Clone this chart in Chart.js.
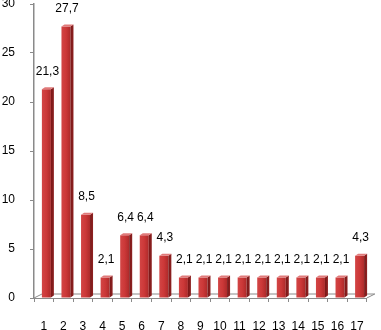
<!DOCTYPE html>
<html>
<head>
<meta charset="utf-8">
<script src="https://cdn.jsdelivr.net/npm/chart.js@4"></script>
<style>
html,body{margin:0;padding:0;background:#fff;}
#wrap{width:381px;height:330px;position:relative;}
</style>
</head>
<body>
<div id="wrap"><canvas id="c" width="381" height="330"></canvas></div>
<script>
const categories = ['1','2','3','4','5','6','7','8','9','10','11','12','13','14','15','16','17'];
const values = [21.3, 27.7, 8.5, 2.1, 6.4, 6.4, 4.3, 2.1, 2.1, 2.1, 2.1, 2.1, 2.1, 2.1, 2.1, 2.1, 4.3];
const yMin = 0, yMax = 30, yStep = 5;

const FONT = "'Liberation Sans', Arial, sans-serif";
const SHIFT = 2.6;      // 3D offset of bars toward the back
const DEPTH_BAR = [3, -2];
const DEPTH_FLOOR = [8, -4];
const AXIS_GRAY = '#8a8a8a';

function fmt(v){ return String(v).replace('.', ','); }

const bar3d = {
  id: 'bar3d',
  beforeDatasetsDraw(chart){
    const {ctx, chartArea: a} = chart;
    const y0 = chart.scales.y.getPixelForValue(0);
    ctx.save();
    ctx.strokeStyle = AXIS_GRAY;
    ctx.lineWidth = 1;
    ctx.beginPath();
    ctx.moveTo(a.left, y0);
    ctx.lineTo(a.left + DEPTH_FLOOR[0], y0 + DEPTH_FLOOR[1]);
    ctx.lineTo(a.right + DEPTH_FLOOR[0], y0 + DEPTH_FLOOR[1]);
    ctx.lineTo(a.right, y0);
    ctx.stroke();
    ctx.restore();
    ctx.save();
    ctx.translate(SHIFT, 0);
  },
  afterDatasetsDraw(chart){
    const {ctx} = chart;
    ctx.restore();
    const meta = chart.getDatasetMeta(0);
    ctx.save();
    meta.data.forEach((el, i) => {
      const p = el.getProps(['x','y','base','width'], true);
      const l = p.x - p.width/2 + SHIFT, r = p.x + p.width/2 + SHIFT;
      const t = p.y, b = p.base;
      const [dx, dy] = DEPTH_BAR;
      const gs = ctx.createLinearGradient(r, 0, r+dx, 0);
      gs.addColorStop(0, '#7a1717');
      gs.addColorStop(1, '#8f2222');
      ctx.fillStyle = gs;
      ctx.beginPath();
      ctx.moveTo(r, t); ctx.lineTo(r+dx, t+dy); ctx.lineTo(r+dx, b+dy); ctx.lineTo(r, b);
      ctx.closePath(); ctx.fill();
      ctx.fillStyle = '#e07a7a';
      ctx.beginPath();
      ctx.moveTo(l, t); ctx.lineTo(l+dx, t+dy); ctx.lineTo(r+dx, t+dy); ctx.lineTo(r, t);
      ctx.closePath(); ctx.fill();
      ctx.fillStyle = '#000';
      ctx.font = '12px ' + FONT;
      ctx.textAlign = 'center';
      ctx.textBaseline = 'middle';
      ctx.fillText(fmt(values[i]), (l + r)/2 + 1, t - 18);
    });
    ctx.restore();
  }
};

const chart = new Chart(document.getElementById('c'), {
  type: 'bar',
  data: {
    labels: categories,
    datasets: [{
      data: values,
      barPercentage: 0.46,
      categoryPercentage: 1,
      borderWidth: 0,
      backgroundColor: (c) => {
        const ch = c.chart;
        if (!ch.chartArea || !ch.scales.x) return '#c83434';
        const cx = ch.scales.x.getPixelForValue(c.dataIndex);
        const half = 4.5;
        const g = ch.ctx.createLinearGradient(cx - half, 0, cx + half, 0);
        g.addColorStop(0, '#d24545');
        g.addColorStop(0.5, '#cc3838');
        g.addColorStop(1, '#ad2a2a');
        return g;
      }
    }]
  },
  options: {
    responsive: false,
    animation: false,
    devicePixelRatio: 1,
    layout: { padding: { top: 4, right: 11, left: 0, bottom: 0 } },
    plugins: { legend: { display: false }, tooltip: { enabled: false } },
    scales: {
      x: {
        afterFit(s){ s.height = 32; },
        grid: { drawOnChartArea: false, drawTicks: true, tickLength: 4, color: AXIS_GRAY },
        border: { display: true, color: AXIS_GRAY, width: 1 },
        ticks: { color: '#000', font: { family: FONT, size: 12 }, padding: 17, maxRotation: 0, autoSkip: false }
      },
      y: {
        min: yMin, max: yMax,
        afterFit(s){ s.width = 34; s.paddingTop = 0; s.paddingBottom = 0; },
        grid: { drawOnChartArea: false, drawTicks: true, tickLength: 4, color: AXIS_GRAY },
        border: { display: true, color: AXIS_GRAY, width: 1.5 },
        ticks: { stepSize: yStep, color: '#000', font: { family: FONT, size: 12 }, padding: 15 }
      }
    }
  },
  plugins: [bar3d]
});
</script>
</body>
</html>
